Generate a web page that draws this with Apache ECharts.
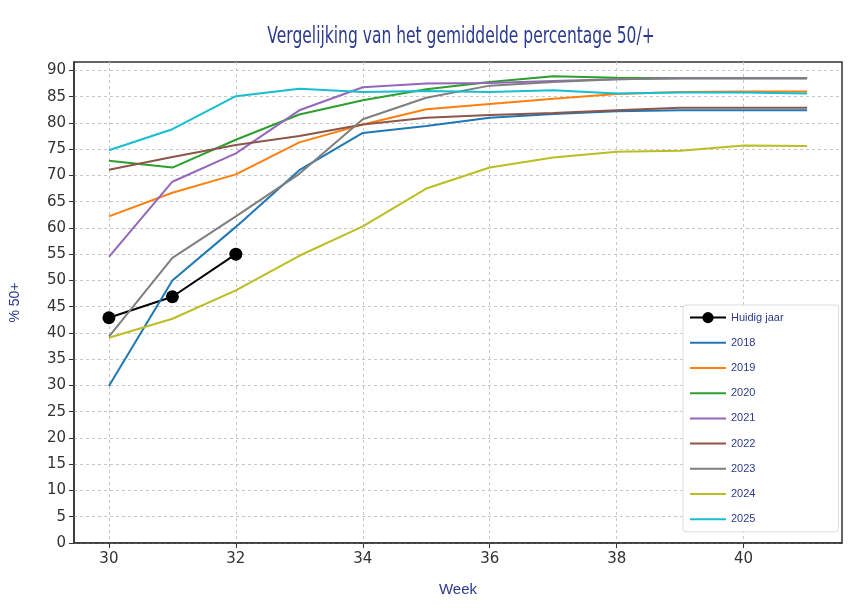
<!DOCTYPE html>
<html>
<head>
<meta charset="utf-8">
<script src="https://cdn.jsdelivr.net/npm/echarts@6/dist/echarts.min.js"></script>
<style>
  html, body { margin: 0; padding: 0; background: #fff; }
  #container { width: 858px; height: 610px; }
</style>
</head>
<body>
<div id="container"></div>
<script>
// weken 30 t/m 41
var weeks = [30, 31, 32, 33, 34, 35, 36, 37, 38, 39, 40, 41];
var huidigWeeks = [30, 31, 32];
var huidig = [42.9, 46.9, 55.0];

var y2018 = [29.9, 50.0, 60.2, 71.0, 78.1, 79.4, 81.0, 81.7, 82.2, 82.4, 82.4, 82.4];
var y2019 = [62.2, 66.7, 70.2, 76.3, 79.7, 82.6, 83.6, 84.6, 85.5, 85.9, 86.0, 86.0];
var y2020 = [72.8, 71.5, 76.8, 81.6, 84.3, 86.4, 87.8, 88.9, 88.6, 88.5, 88.5, 88.5];
var y2021 = [54.5, 68.8, 74.2, 82.4, 86.8, 87.5, 87.6, 88.0, 88.3, 88.5, 88.5, 88.5];
var y2022 = [71.1, 73.5, 75.8, 77.5, 79.7, 81.0, 81.5, 81.9, 82.4, 82.9, 82.9, 82.9];
var y2023 = [39.3, 54.3, 62.2, 70.3, 80.7, 84.8, 87.1, 87.8, 88.3, 88.5, 88.5, 88.5];
var y2024 = [39.1, 42.7, 48.1, 54.7, 60.3, 67.5, 71.5, 73.4, 74.5, 74.7, 75.7, 75.6];
var y2025 = [74.8, 78.8, 85.1, 86.5, 85.9, 86.1, 85.9, 86.2, 85.6, 85.8, 85.8, 85.6];

var xTicks = [30, 32, 34, 36, 38, 40];
var yTicks = [0, 5, 10, 15, 20, 25, 30, 35, 40, 45, 50, 55, 60, 65, 70, 75, 80, 85, 90];

var titel = 'Vergelijking van het gemiddelde percentage 50/+';
var smal = "'Liberation Sans', Arial, sans-serif";
var blauw = '#2b3a8f';

function pairs(xs, ys) {
  return xs.map(function (x, i) { return [x, ys[i]]; });
}

var jaren = [
  { name: '2018', data: y2018, color: '#1f77b4' },
  { name: '2019', data: y2019, color: '#ff7f0e' },
  { name: '2020', data: y2020, color: '#2ca02c' },
  { name: '2021', data: y2021, color: '#9467bd' },
  { name: '2022', data: y2022, color: '#8c564b' },
  { name: '2023', data: y2023, color: '#7f7f7f' },
  { name: '2024', data: y2024, color: '#bcbd22' },
  { name: '2025', data: y2025, color: '#17becf' }
];

var series = [{
  name: 'Huidig jaar',
  type: 'line',
  data: pairs(huidigWeeks, huidig),
  symbol: 'circle',
  symbolSize: 13,
  lineStyle: { color: '#000', width: 2 },
  itemStyle: { color: '#000' }
}];

jaren.forEach(function (j) {
  series.push({
    name: j.name,
    type: 'line',
    data: pairs(weeks, j.data),
    symbol: 'none',
    lineStyle: { color: j.color, width: 2 },
    itemStyle: { color: j.color }
  });
});

// legenda: alleen bij huidig jaar een bolletje
var legendData = [{ name: 'Huidig jaar' }].concat(jaren.map(function (j) {
  return { name: j.name, itemStyle: { opacity: 0 } };
}));

var option = {
  animation: false,
  backgroundColor: '#fff',
  // titel in smalle letter (horizontaal geschaald)
  graphic: [{
    type: 'text',
    x: 461,
    y: 37,
    scaleX: 0.675,
    style: {
      text: titel,
      align: 'center',
      verticalAlign: 'middle',
      fill: blauw,
      font: '23px "DejaVu Sans"'
    }
  }],
  grid: {
    left: 72, right: 16, top: 62, bottom: 67,
    show: true, borderColor: '#333', borderWidth: 1.5, backgroundColor: 'transparent'
  },
  legend: {
    orient: 'vertical',
    left: 683,
    top: 305,
    itemWidth: 36,
    itemHeight: 14,
    itemGap: 14,
    padding: [7, 55, 7, 6],
    backgroundColor: '#fff',
    borderColor: '#ddd',
    borderWidth: 1,
    borderRadius: 3,
    textStyle: { color: blauw, fontSize: 11, fontFamily: smal },
    data: legendData
  },
  xAxis: {
    type: 'value',
    min: 29.45,
    max: 41.55,
    name: 'Week',
    nameLocation: 'middle',
    nameGap: 39,
    nameTextStyle: { color: blauw, fontSize: 15, fontFamily: smal },
    axisLine: { show: true, lineStyle: { color: '#333', width: 1.5 } },
    axisTick: { show: true, length: 5, lineStyle: { color: '#333' }, customValues: xTicks },
    axisLabel: { color: '#333', fontSize: 15, margin: 9, customValues: xTicks, fontFamily: 'DejaVu Sans' },
    splitLine: { show: true, lineStyle: { color: '#c8c8c8', type: [3, 3], width: 1 } }
  },
  yAxis: {
    type: 'value',
    min: 0,
    max: 91.6,
    name: '% 50+',
    nameLocation: 'middle',
    nameGap: 52,
    nameTextStyle: { color: blauw, fontSize: 14, fontFamily: smal },
    axisLine: { show: true, lineStyle: { color: '#333', width: 1.5 } },
    axisTick: { show: true, length: 5, lineStyle: { color: '#333' }, customValues: yTicks },
    axisLabel: { color: '#333', fontSize: 15, margin: 8, customValues: yTicks, fontFamily: 'DejaVu Sans' },
    splitLine: { show: true, lineStyle: { color: '#c8c8c8', type: [3, 3], width: 1 } }
  },
  series: series
};

var myChart = echarts.init(document.getElementById('container'), null, { renderer: 'canvas' });
myChart.setOption(option);
</script>
</body>
</html>
